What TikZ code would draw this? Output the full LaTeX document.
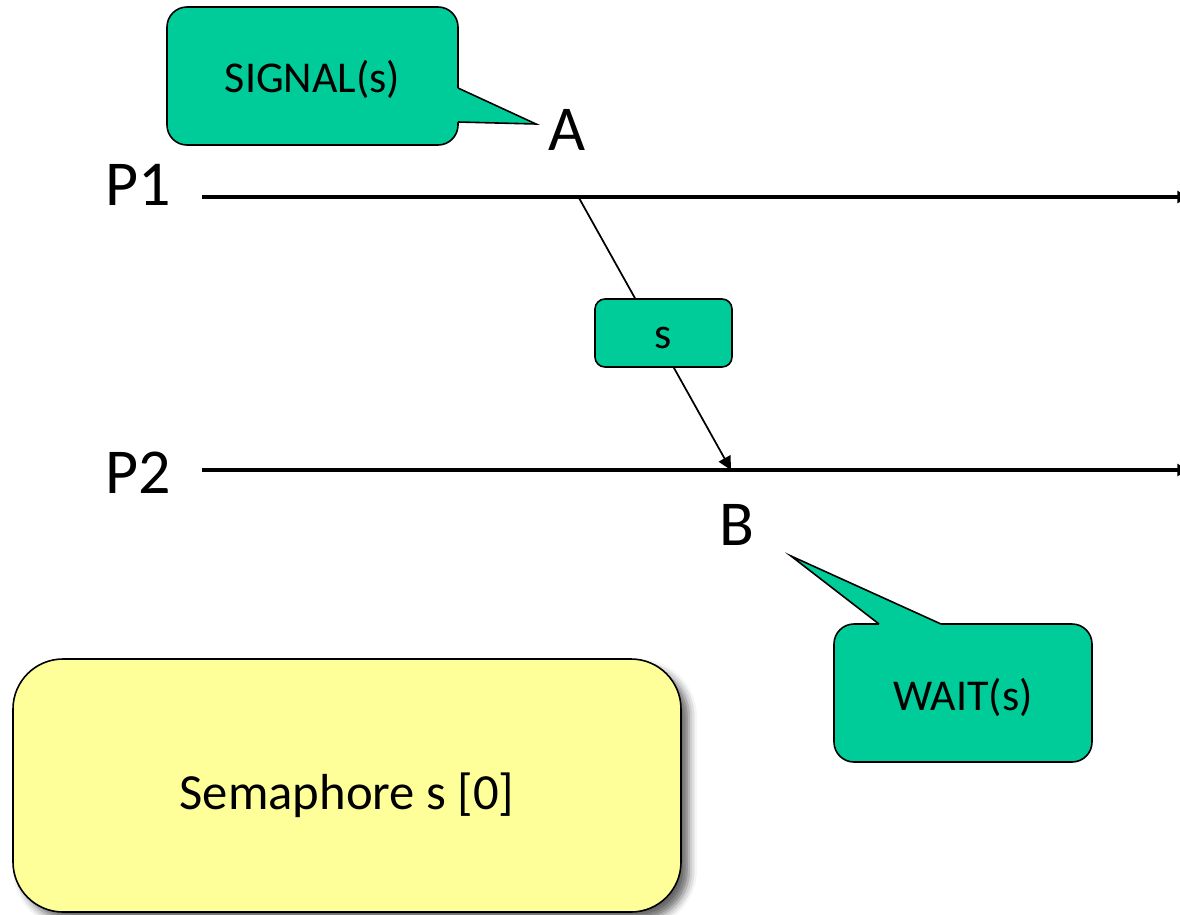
\documentclass[tikz,border=0pt]{standalone}
\usepackage{fontspec}
\setmainfont{Carlito}
\usetikzlibrary{arrows.meta,shadows.blur}
\definecolor{calloutgreen}{RGB}{0,204,153}
\definecolor{semyellow}{RGB}{255,255,153}
\newcommand{\lowertext}[2]{\raisebox{-#1}[\height][\depth]{#2}}
\begin{document}
\begin{tikzpicture}[x=0.75pt,y=-0.75pt,
  proclabel/.style={font=\fontsize{48}{56}\selectfont, inner sep=0pt},
  timeline/.style={line width=3pt, -{Triangle[length=8pt,width=9pt]}},
  msgline/.style={line width=1.3pt, -{Triangle[length=10pt,width=10pt]}},
  calloutbox/.style={draw=black, line width=1.2pt, fill=calloutgreen, rounded corners=15pt,
    font=\fontsize{33}{40}\selectfont, inner sep=0pt},
  pointerfill/.style={fill=calloutgreen},
  pointerline/.style={draw=black, line width=1.2pt, line join=miter},
  tokenbox/.style={draw=black, line width=1.2pt, fill=calloutgreen, rounded corners=7.5pt,
    font=\fontsize{33}{40}\selectfont, inner sep=0pt, minimum width=102.75pt, minimum height=51pt},
  sembox/.style={draw=black, line width=1.2pt, fill=semyellow, rounded corners=37.5pt,
    font=\fontsize{38}{46}\selectfont, inner sep=0pt, minimum width=501pt, minimum height=189.75pt,
    blur shadow={shadow xshift=6pt, shadow yshift=-6pt, shadow blur radius=6pt, shadow opacity=60}}
]
\useasboundingbox (0,0) rectangle (1180,914);

% process labels and timelines
\node[proclabel] (P1) at (138,185) {P1};
\node[proclabel] (P2) at (138,473) {P2};
\coordinate (p1s) at (202,197);
\coordinate (p1e) at (1188,197);
\coordinate (p2s) at (202,470);
\coordinate (p2e) at (1188,470);
\draw[timeline] (p1s) -- (p1e);
\draw[timeline] (p2s) -- (p2e);

% events
\node[proclabel] (A) at (567,130) {A};
\node[proclabel] (B) at (737,525) {B};

% message
\coordinate (sendA) at (579,198);
\coordinate (recvB) at (731,470);
\draw[msgline] (sendA) -- (recvB);
\node[tokenbox] (tok) at (663.5,333) {\lowertext{3.5pt}{s}};

% SIGNAL callout
\node[calloutbox, minimum width=218.25pt, minimum height=103.5pt] (sig) at (312.5,76) {\lowertext{2.5pt}{SIGNAL(s)}};
\coordinate (sigtip) at (536,124);
\fill[pointerfill] (450,88) -- (458,88) -- (sigtip) -- (458,122) -- (450,122) -- cycle;
\draw[pointerline] (458,88) -- (sigtip) -- (458,122);

% WAIT callout
\node[calloutbox, minimum width=193.5pt, minimum height=103.5pt] (wait) at (963,693) {\lowertext{3pt}{WAIT(s)}};
\coordinate (waittip) at (791,556);
\fill[pointerfill] (879,632) -- (879,624) -- (waittip) -- (941,624) -- (941,632) -- cycle;
\draw[pointerline] (879,624) -- (waittip) -- (941,624);

% semaphore
\node[sembox] (sem) at (347,785.5) {\lowertext{7pt}{Semaphore s [0]}};
\end{tikzpicture}
\end{document}
